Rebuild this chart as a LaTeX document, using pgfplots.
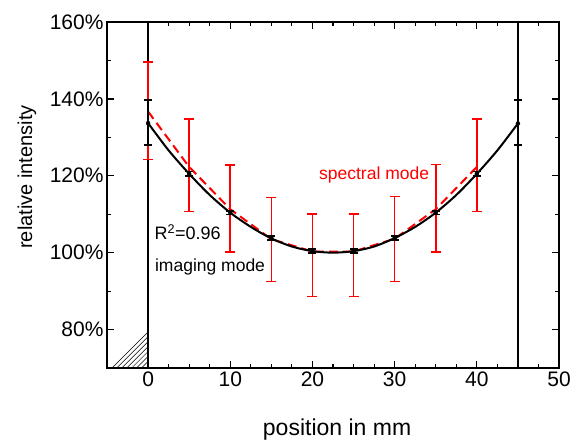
\documentclass[border=0pt]{standalone}
\usepackage{pgfplots}
\pgfplotsset{compat=1.18}
\usepackage{pgfplotstable}
\usepackage{fontspec}
\setmainfont{Liberation Sans}

\pgfplotstableread{
x y
0 133.7
2.5 126.6
5 120.5
7.5 115.0
10 110.4
12.5 106.7
15 103.7
17.5 101.6
20 100.4
22.5 100.0
25 100.4
27.5 101.6
30 103.8
32.5 106.7
35 110.4
37.5 115.0
40 120.5
42.5 126.6
45 133.6
}\fitcurve

\pgfplotstableread{
x y ep em
0 133.7 6.0 5.7
5 120.5 0.6 0.6
10 110.4 0.5 0.5
15 103.8 0.5 0.5
20 100.4 0.5 0.5
25 100.4 0.5 0.5
30 103.8 0.5 0.5
35 110.4 0.5 0.5
40 120.5 0.6 0.6
45 133.6 6.1 5.6
}\imaging

\pgfplotstableread{
x y ep em
0 136.7 12.9 12.5
5 122.3 12.5 11.6
10 111.3 11.5 11.2
15 103.5 10.8 11.0
20 100.3 9.7 11.7
25 100.3 9.7 11.7
30 103.6 11.0 11.1
35 111.3 11.6 11.2
40 122.3 12.5 11.6
}\spectral

\begin{document}
\begin{tikzpicture}
\begin{axis}[
  scale only axis, width=452pt, height=346pt,
  xmin=-5, xmax=50, ymin=70, ymax=160,
  xtick={0,10,...,50}, minor x tick num=3,
  ytick={80,100,...,160}, minor y tick num=1,
  tick align=inside,
  major tick length=7pt, minor tick length=4pt,
  major tick style={draw=black, line width=1.3pt},
  minor tick style={draw=black, line width=1.1pt},
  axis line style={line width=1.6pt},
  /pgf/number format/assume math mode=true,
  tick label style={font=\fontsize{21}{25}\selectfont},
  yticklabel={\pgfmathprintnumber{\tick}\%},
  xlabel={position in mm},
  ylabel={relative intensity},
  xlabel style={font=\fontsize{23}{27}\selectfont, at={(axis description cs:0.509,-0.179)}, anchor=center},
  ylabel style={font=\fontsize{20}{24}\selectfont, at={(axis description cs:-0.177,0.552)}, anchor=center},
]
% hatched regions drawn as line segments
\pgfplotsinvokeforeach{-4.4,-3.8,-3.2,-2.6,-2.0,-1.4,-0.8,-0.2}{
  \addplot[black, line width=0.5pt, forget plot] coordinates {(#1,70) (0,{70+2.138*(0-#1)})};
}
\addplot[draw=black, line width=1.2pt, forget plot] coordinates {(-5,70) (0,70) (0,160) (-5,160)} -- cycle;
\addplot[draw=black, line width=1.2pt, forget plot] coordinates {(45,70) (50,70) (50,160) (45,160)} -- cycle;

\addplot[red, line width=2pt, dash pattern=on 9pt off 5pt, mark=none,
  error bars/.cd, y dir=both, y explicit,
  error bar style={line width=1.6pt, solid, red},
  error mark options={rotate=90, mark size=5pt, line width=1.6pt, solid, red}]
  table[x=x, y=y, y error plus=ep, y error minus=em] {\spectral};

\addplot[black, line width=2pt, smooth, mark=none] table[x=x, y=y] {\fitcurve};

\addplot[black, only marks, mark=none,
  error bars/.cd, y dir=both, y explicit,
  error bar style={line width=1.6pt, black},
  error mark options={rotate=90, mark size=4pt, line width=1.6pt, black}]
  table[x=x, y=y, y error plus=ep, y error minus=em] {\imaging};

\node[red, font=\fontsize{17.5}{20}\selectfont] at (axis cs:27.5,120.1) {spectral mode};
\node[black, font=\fontsize{18}{21}\selectfont] at (axis cs:4.8,105.3) {R\textsuperscript{2}=0.96};
\node[black, font=\fontsize{17.5}{20}\selectfont] at (axis cs:7.54,96.2) {imaging mode};

\coordinate (sw) at (rel axis cs:0,0);
\coordinate (ne) at (rel axis cs:1,1);
\end{axis}
\path ([shift={(-107pt,-73pt)}]sw) rectangle ([shift={(17pt,22pt)}]ne);
\end{tikzpicture}
\end{document}
